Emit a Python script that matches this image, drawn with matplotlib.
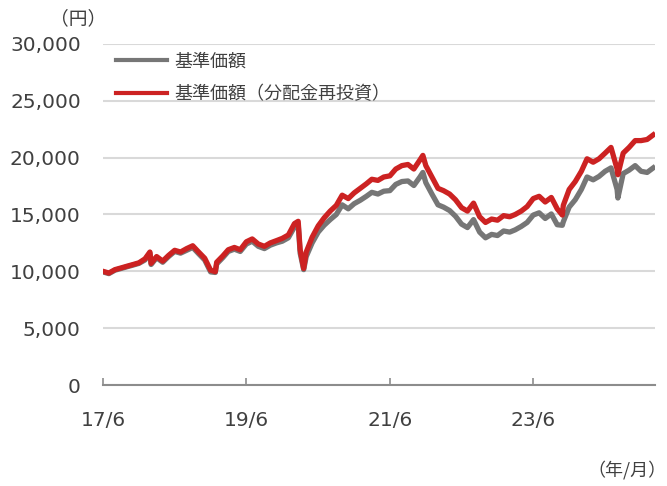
import matplotlib
matplotlib.use("Agg")
import matplotlib.pyplot as plt
from matplotlib.ticker import FuncFormatter
import pandas as pd

plt.rcParams['font.family'] = ['DejaVu Sans', 'Noto Sans CJK JP']

# monthly readings (first of month), 2017/6 - 2025/2
start_month = '2017-06-01'
nav = [9950, 9800, 10100, 10250, 10400, 10550, 10700, 11000, 10600, 11200,
       10800, 11300, 11750, 11600, 11850, 12100, 11550, 11000, 9950, 10650,
       11200, 11750, 11950, 11750, 12400, 12650, 12200, 12000, 12300, 12500,
       12650, 12950, 13900, 11600, 11300, 12500, 13450, 14050, 14550, 15000,
       15850, 15500, 15950, 16250, 16600, 16950, 16800, 17050, 17100, 17650,
       17900, 17950, 17550, 18300, 17800, 16800, 15850, 15650, 15350, 14850,
       14150, 13850, 14550, 13450, 12950, 13250, 13150, 13550, 13450, 13650,
       13950, 14300, 14950, 15150, 14650, 15050, 14100, 14350, 15650, 16300,
       17200, 18300, 18050, 18350, 18800, 19100, 17200, 18600, 18900, 19300,
       18800, 18700, 19100]
nav_reinv = [10000, 9850, 10150, 10300, 10450, 10600, 10750, 11100, 10700, 11300,
             10900, 11400, 11850, 11700, 12000, 12250, 11700, 11150, 10100, 10800,
             11350, 11900, 12100, 11900, 12600, 12850, 12400, 12200, 12500, 12700,
             12900, 13200, 14200, 11900, 11700, 13000, 14000, 14700, 15300, 15800,
             16700, 16400, 16900, 17300, 17700, 18100, 18000, 18300, 18400, 19000,
             19300, 19400, 19000, 19800, 19300, 18300, 17300, 17100, 16800, 16300,
             15600, 15300, 16000, 14800, 14300, 14600, 14500, 14900, 14800, 15000,
             15300, 15700, 16400, 16600, 16100, 16500, 15500, 15800, 17200, 17900,
             18800, 19900, 19600, 19900, 20400, 20900, 19000, 20400, 20900, 21500,
             21500, 21600, 22000]

# a few peaks / troughs between month starts
event_dates = ['2018-01-26', '2018-12-25', '2020-02-20', '2020-03-19',
               '2021-11-16', '2023-10-27', '2024-08-05']
event_nav = [11600, 9900, 14150, 10150, 18700, 14050, 16450]
event_nav_reinv = [11700, 9970, 14400, 10250, 20200, 14950, 18500]

tick_dates = ['2017-06-01', '2019-06-01', '2021-06-01', '2023-06-01']
tick_labels = ['17/6', '19/6', '21/6', '23/6']


def build_series(monthly, extra):
    s1 = pd.Series(monthly, index=pd.date_range(start_month, periods=len(monthly), freq='MS'))
    s2 = pd.Series(extra, index=pd.to_datetime(event_dates))
    return pd.concat([s1, s2]).sort_index()


def draw():
    fig = plt.figure(figsize=(6.67, 4.86), dpi=100)
    ax = fig.add_axes([0.1544, 0.2078, 0.8276, 0.7017])
    s_nav = build_series(nav, event_nav)
    s_re = build_series(nav_reinv, event_nav_reinv)
    ax.plot(s_nav.index, s_nav.values, color='#767676', linewidth=3.8, label='基準価額', zorder=3)
    ax.plot(s_re.index, s_re.values, color='#cc2222', linewidth=3.8, label='基準価額（分配金再投資）', zorder=4)

    ax.set_ylim(0, 30000)
    ax.set_yticks(range(0, 30001, 5000))
    ax.yaxis.set_major_formatter(FuncFormatter(lambda v, p: '{:,.0f}'.format(v)))
    ax.set_xlim(pd.Timestamp('2017-06-01'), pd.Timestamp('2025-02-10'))
    ax.set_xticks(pd.to_datetime(tick_dates))
    ax.set_xticklabels(tick_labels)

    ax.grid(axis='y', color='#d9d9d9', linewidth=1.5, zorder=0)
    for sp in ['top', 'right', 'left']:
        ax.spines[sp].set_visible(False)
    ax.spines['bottom'].set_color('#8c8c8c')
    ax.spines['bottom'].set_linewidth(1.5)
    ax.tick_params(axis='y', length=0, pad=16, labelsize=14.5, colors='#404040')
    ax.tick_params(axis='x', direction='in', length=5, width=1.2, color='#8c8c8c',
                   pad=19, labelsize=14.5, labelcolor='#404040')

    leg = ax.legend(loc='upper left', bbox_to_anchor=(0.024, 0.975), frameon=False,
                    fontsize=13, handlelength=2.8, handletextpad=0.4,
                    labelspacing=0.8, borderpad=0, borderaxespad=0)
    for t in leg.get_texts():
        t.set_color('#404040')
    for l in leg.get_lines():
        l.set_linewidth(3)

    fig.text(0.16, 0.962, '（円）', ha='right', va='center', fontsize=13.5,
             color='#404040', family=['Noto Sans CJK JP', 'DejaVu Sans'])
    fig.text(1.0, 0.033, '（年/月）', ha='right', va='center', fontsize=13,
             color='#404040', family=['Noto Sans CJK JP', 'DejaVu Sans'])
    fig.savefig('out.png', dpi=100)


if __name__ == '__main__':
    draw()
